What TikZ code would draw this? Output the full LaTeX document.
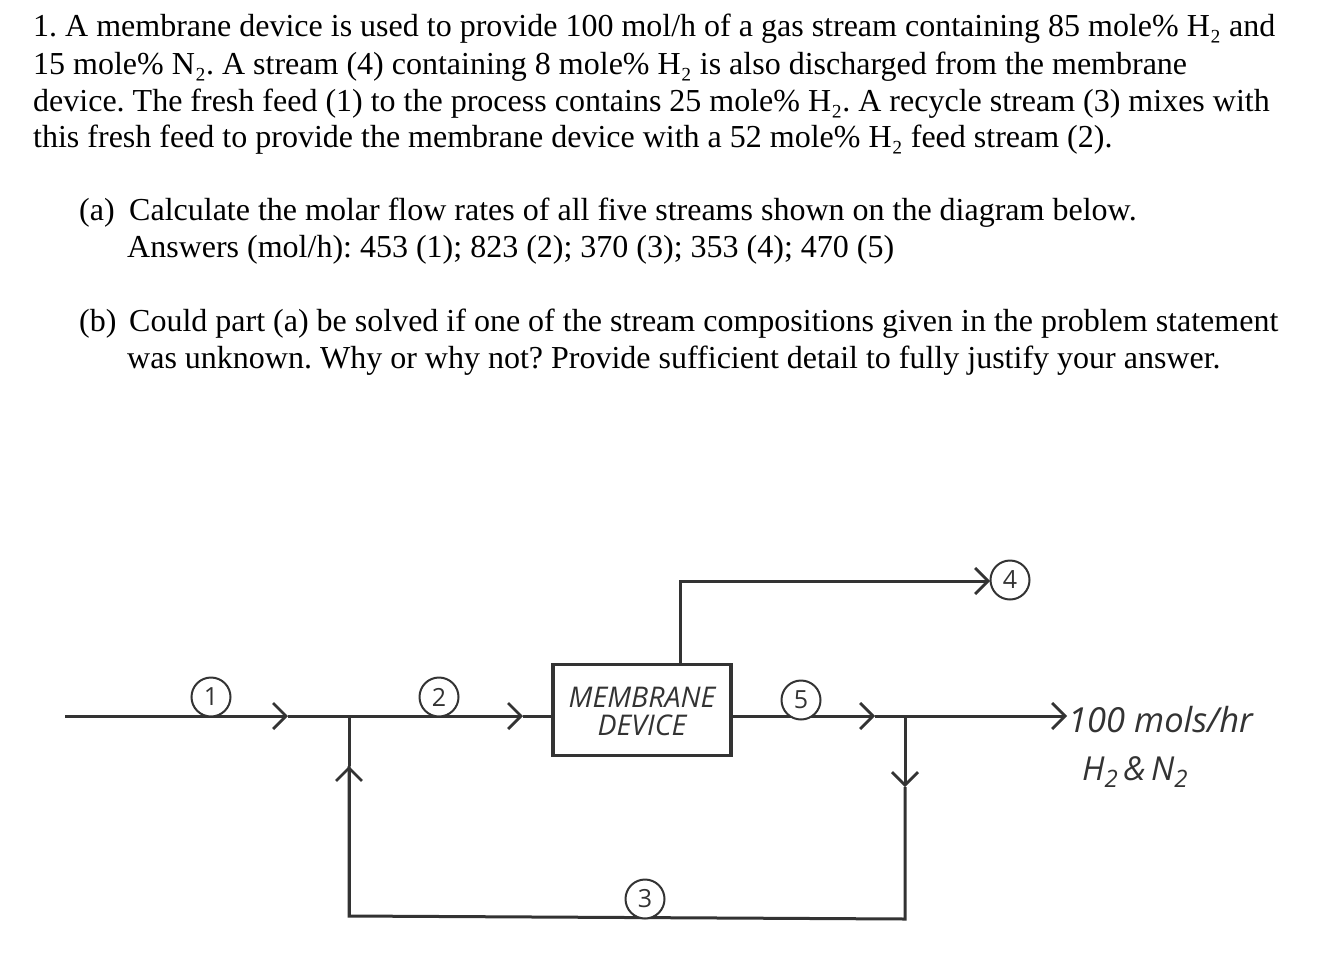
\documentclass[tikz,border=0pt]{standalone}
\usepackage{fontspec}
\usetikzlibrary{arrows.meta}
\setmainfont{Liberation Serif}
\newfontfamily\handfont{Open Sans}
\definecolor{ink}{HTML}{333333}
\frenchspacing
\begin{document}
\begin{tikzpicture}[x=1pt,y=-1pt,
  prose/.style={anchor=base west,inner sep=0pt,font=\fontsize{32}{36}\selectfont,text=black},
  hand/.style={inner sep=0pt,text=ink},
  tag/.style={draw=ink,circle,line width=2pt,minimum size=39pt,inner sep=0pt,fill=white,text=ink,font=\handfont\fontsize{25}{26}\selectfont},
  pipe/.style={draw=ink,line width=3pt},
  flow/.style={pipe,-{Straight Barb[length=13pt,width=26pt,line width=2.8pt]}},
  unitbox/.style={draw=ink,line width=3.6pt,fill=white,minimum width=178pt,minimum height=91pt,inner sep=0pt}]
\useasboundingbox (0,0) rectangle (1330,956);
\fill[white] (0,0) rectangle (1330,956);
% prose
\node[prose] (l1) at (33,36) {1. A membrane device is used to provide 100 mol/h of a gas stream containing 85 mole\% H₂ and};
\node[prose] (l2) at (33,74) {15 mole\% N₂. A stream (4) containing 8 mole\% H₂ is also discharged from the membrane};
\node[prose] (l3) at (33,111) {device. The fresh feed (1) to the process contains 25 mole\% H₂. A recycle stream (3) mixes with};
\node[prose] (l4) at (33,147) {this fresh feed to provide the membrane device with a 52 mole\% H₂ feed stream (2).};
\node[prose] (a0) at (79,220) {(a)};
\node[prose] (a1) at (129,220) {Calculate the molar flow rates of all five streams shown on the diagram below.};
\node[prose] (a2) at (127,257) {Answers (mol/h): 453 (1); 823 (2); 370 (3); 353 (4); 470 (5)};
\node[prose] (b0) at (79,331) {(b)};
\node[prose] (b1) at (129,331) {Could part (a) be solved if one of the stream compositions given in the problem statement};
\node[prose] (b2) at (127,368) {was unknown. Why or why not? Provide sufficient detail to fully justify your answer.};
% unit
\node[unitbox] (mem) at (642,710) {};
\node[hand,font=\handfont\itshape\fontsize{28.5}{30}\selectfont,align=center] (memt) at (642,711) {MEMBRANE\\[-2pt]DEVICE};
% junctions and free ends
\coordinate (in) at (65,716);
\coordinate (tipa) at (288,716);
\coordinate (j1) at (349,716);
\coordinate (tipb) at (523,716);
\coordinate (memin) at (mem.west |- j1);
\coordinate (memout) at (mem.east |- j1);
\coordinate (tipc) at (875,716);
\coordinate (j2) at (905,716);
\coordinate (tipd) at (1067,716);
\coordinate (tipe) at (905,787);
\coordinate (c1) at (905,919);
\coordinate (c2) at (349,916);
\coordinate (tipf) at (349,766);
\coordinate (memtop) at (680,664);
\coordinate (c3) at (680,581);
\coordinate (tipg) at (990,581);
% connectors
\draw[flow] (in) -- (tipa);
\draw[pipe] (tipa) -- (j1);
\draw[flow] (j1) -- (tipb);
\draw[pipe] (tipb) -- (memin);
\draw[flow] (memout) -- (tipc);
\draw[pipe] (tipc) -- (j2);
\draw[flow] (j2) -- (tipd);
\draw[flow] (j2) -- (tipe);
\draw[pipe,line join=miter] (tipe) -- (c1) -- (c2) -- (tipf);
\draw[flow] (c2) -- (tipf);
\draw[pipe] (tipf) -- (j1);
\draw[flow] (memtop) -- (c3) -- (tipg);
% stream tags
\node[tag] (s1) at (211,697) {1};
\node[tag] (s2) at (439,697) {2};
\node[tag] (s3) at (645,899) {3};
\node[tag] (s4) at (1010,580) {4};
\node[tag] (s5) at (801,700) {5};
% outlet label
\node[hand,anchor=west,font=\handfont\itshape\fontsize{34.5}{36}\selectfont] (out1) at (1068,720) {100 mols/hr};
\node[hand,anchor=west,font=\handfont\itshape\fontsize{33}{34}\selectfont] (out2) at (1082,772) {H\raisebox{-7pt}{\fontsize{24}{24}\selectfont 2}\,\&\,N\raisebox{-7pt}{\fontsize{24}{24}\selectfont 2}};
\end{tikzpicture}
\end{document}
